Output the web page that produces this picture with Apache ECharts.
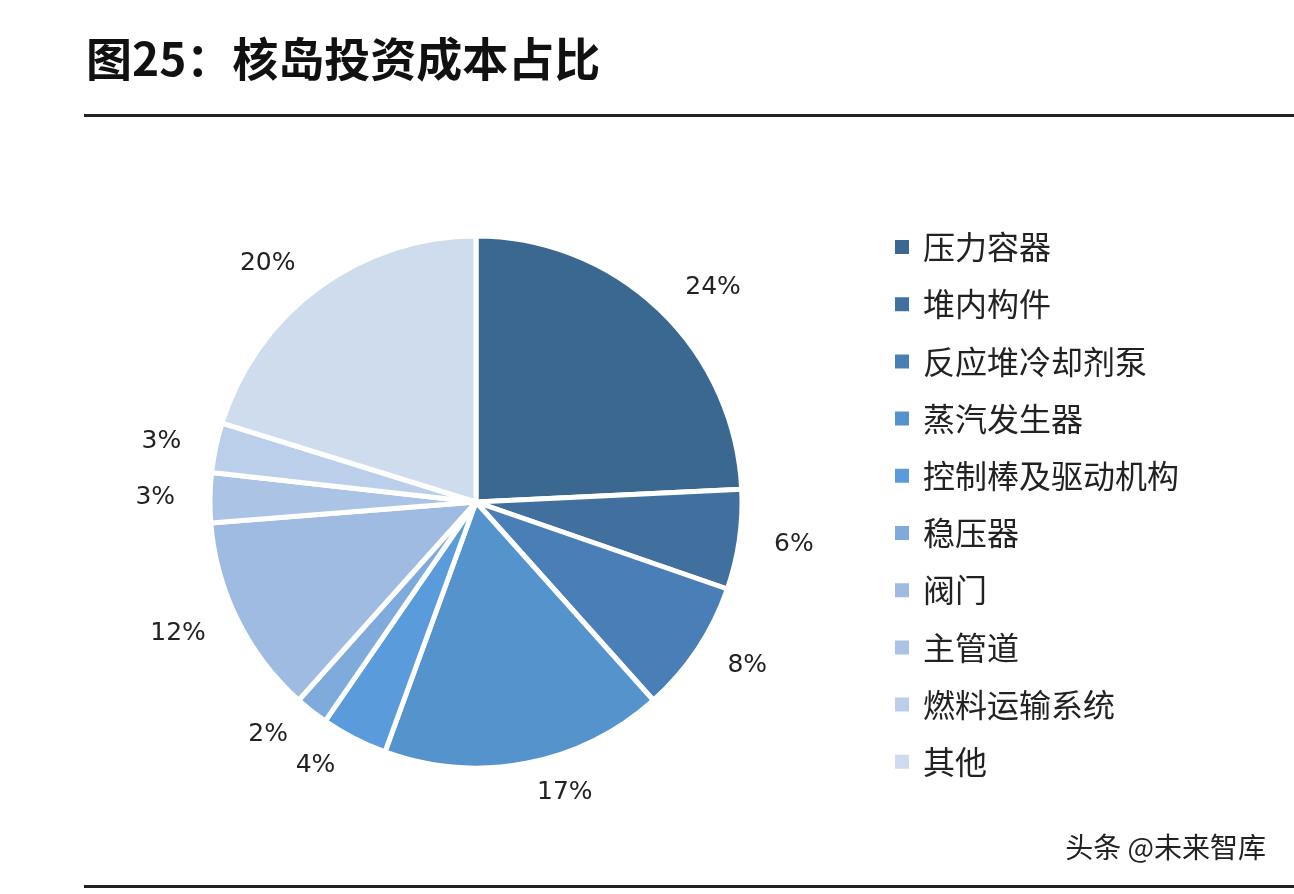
<!DOCTYPE html>
<html lang="zh">
<head>
<meta charset="UTF-8">
<title>核岛投资成本占比</title>
<script src="https://cdn.jsdelivr.net/npm/echarts@6/dist/echarts.min.js"></script>
<style>html,body{margin:0;background:#fff}#main{width:1294px;height:894px}</style>
</head>
<body>
<div id="main"></div>
<script>
var names = ['压力容器', '堆内构件', '反应堆冷却剂泵', '蒸汽发生器', '控制棒及驱动机构', '稳压器', '阀门', '主管道', '燃料运输系统', '其他'];
var values = [24, 6, 8, 17, 4, 2, 12, 3, 3, 20];
var colors = ['#3b6890', '#41709f', '#4a7eb6', '#5593cc', '#5a9cdb', '#7eaadc', '#9fbbe1', '#abc3e5', '#bccfea', '#cfdcee'];

var chart = echarts.init(document.getElementById('main'));
var font = '"Noto Sans CJK SC", sans-serif';

chart.setOption({
    color: colors,
    textStyle: {fontFamily: font},
    graphic: [
        {type: 'text', left: 86, top: 36, style: {text: '图25：核岛投资成本占比', font: 'bold 46px "Noto Sans CJK SC"', fill: '#111'}},
        {type: 'rect', shape: {x: 84, y: 114, width: 1210, height: 3}, style: {fill: '#222'}},
        {type: 'rect', shape: {x: 84, y: 885, width: 1210, height: 3}, style: {fill: '#222'}},
        {type: 'text', right: 28, top: 833, style: {text: '头条 @未来智库', font: '28px "Noto Sans CJK SC"', fill: '#222'}}
    ],
    legend: {
        orient: 'vertical',
        left: 888,
        top: 226,
        itemWidth: 16,
        itemHeight: 16,
        itemGap: 25.2,
        icon: 'rect',
        textStyle: {fontSize: 32, color: '#222', fontFamily: font, padding: [0, 0, 0, 8]},
        data: names
    },
    series: [{
        type: 'pie',
        center: [476, 502],
        radius: [0, 266],
        startAngle: 90,
        clockwise: true,
        itemStyle: {borderColor: '#fff', borderWidth: 5},
        label: {
            show: true,
            position: 'outside',
            formatter: '{c}%',
            fontSize: 25,
            color: '#222',
            fontFamily: 'DejaVu Sans'
        },
        labelLine: {show: false, length: 30, length2: 0},
        emphasis: {disabled: true},
        data: names.map(function (n, i) { return {name: n, value: values[i]}; })
    }]
});
</script>
</body>
</html>
